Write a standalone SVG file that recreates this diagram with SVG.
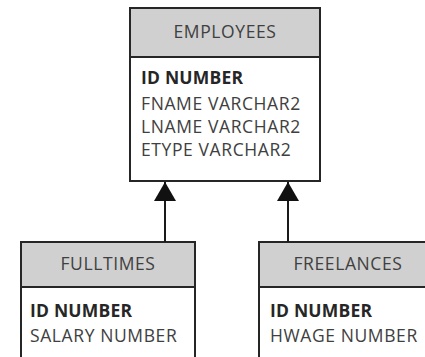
<svg xmlns="http://www.w3.org/2000/svg" width="425" height="357" viewBox="0 0 425 357">
  <style>
    .box { fill: #ffffff; stroke: #262626; stroke-width: 2; }
    .head { fill: #d0d0d0; stroke: #262626; stroke-width: 2; }
    .title { font-family: "Open Sans", "Liberation Sans", sans-serif; font-size: 17.5px; letter-spacing: 0.6px; fill: #404040; text-anchor: middle; }
    .col { font-family: "Open Sans", "Liberation Sans", sans-serif; font-size: 17.5px; letter-spacing: 0.6px; fill: #404040; }
    .key { font-weight: bold; fill: #262626; letter-spacing: 0.2px; }
    .link { stroke: #1a1a1a; stroke-width: 2; fill: none; }
  </style>
  <defs>
    <marker id="inherit" markerWidth="20" markerHeight="23" refX="19" refY="11" orient="auto" markerUnits="userSpaceOnUse">
      <path d="M0,0 L19,11 L0,22 Z" fill="#111111"/>
    </marker>
  </defs>

  <rect width="425" height="357" fill="#ffffff"/>

  <!-- EMPLOYEES table -->
  <g id="employees">
    <rect class="box" x="130" y="8" width="190" height="173"/>
    <rect class="head" x="130" y="8" width="190" height="49"/>
    <text class="title" x="225" y="38">EMPLOYEES</text>
    <text class="col key" x="141" y="84">ID NUMBER</text>
    <text class="col" x="141" y="110">FNAME VARCHAR2</text>
    <text class="col" x="141" y="133">LNAME VARCHAR2</text>
    <text class="col" x="141" y="156">ETYPE VARCHAR2</text>
  </g>

  <!-- FULLTIMES table -->
  <g id="fulltimes">
    <rect class="box" x="21" y="242" width="174" height="130"/>
    <rect class="head" x="21" y="242" width="174" height="45"/>
    <text class="title" x="108" y="270">FULLTIMES</text>
    <text class="col key" x="30" y="317">ID NUMBER</text>
    <text class="col" x="30" y="342">SALARY NUMBER</text>
  </g>

  <!-- FREELANCES table -->
  <g id="freelances">
    <rect class="box" x="259" y="242" width="178" height="130"/>
    <rect class="head" x="259" y="242" width="178" height="45"/>
    <text class="title" x="348" y="270">FREELANCES</text>
    <text class="col key" x="270" y="317">ID NUMBER</text>
    <text class="col" x="270" y="342">HWAGE NUMBER</text>
  </g>

  <!-- inheritance connectors -->
  <g id="connectors">
    <line class="link" x1="165" y1="242" x2="165" y2="182" marker-end="url(#inherit)"/>
    <line class="link" x1="288" y1="242" x2="288" y2="182" marker-end="url(#inherit)"/>
  </g>
</svg>
